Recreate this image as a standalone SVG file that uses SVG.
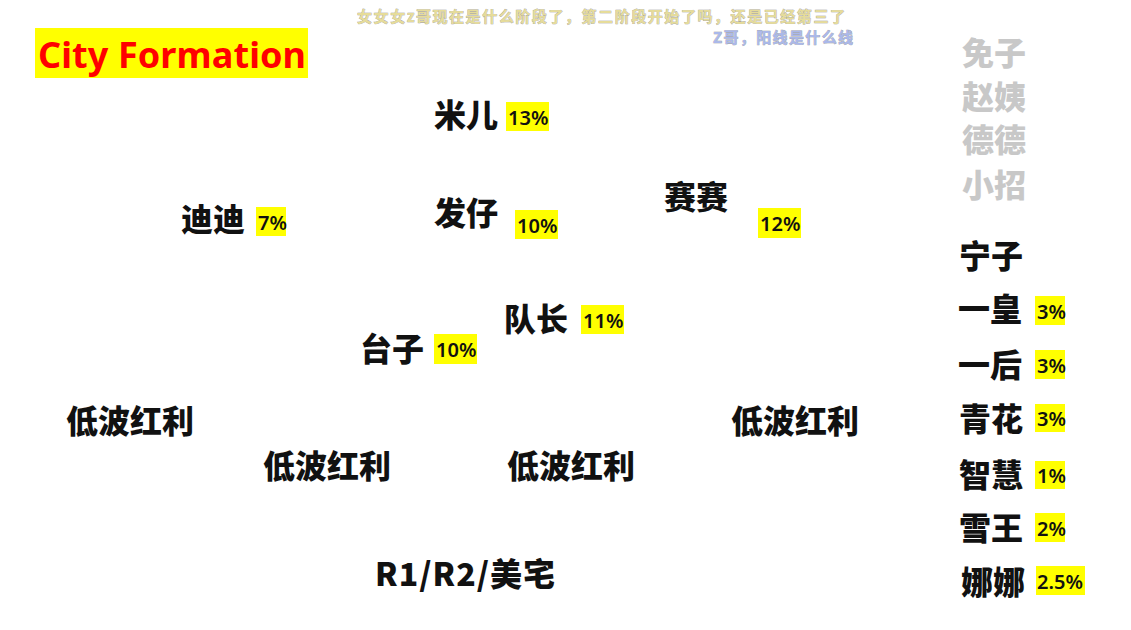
<svg xmlns="http://www.w3.org/2000/svg" width="1131" height="630" viewBox="0 0 1131 630">
<style>
.n{font-family:"Noto Sans CJK SC","Noto Sans",sans-serif;font-weight:900;font-size:32px;fill:#111}
.g{font-family:"Noto Sans CJK SC","Noto Sans",sans-serif;font-weight:900;font-size:32px;fill:#c8c8c8}
.p{font-family:"Noto Sans","Noto Sans CJK SC",sans-serif;font-weight:600;font-size:20px;fill:#111}
.hl{fill:#ffff00}
.dm{font-family:"Noto Sans CJK SC",sans-serif;font-weight:700;font-size:15px;stroke:#9a9a9a;stroke-width:0.6;paint-order:stroke}
</style>
<rect width="1131" height="630" fill="#ffffff"/>
<g id="overlay">
<text class="dm" x="357" y="22" fill="#e6dc9a" textLength="488">女女女z哥现在是什么阶段了，第二阶段开始了吗，还是已经第三了</text>
<text class="dm" x="713" y="43" fill="#aab8ea" textLength="140">Z哥，阳线是什么线</text>
</g>
<g id="title">
<rect x="35" y="28" width="273" height="50" fill="#ffff00"/>
<text x="38" y="68" font-family="Noto Sans,sans-serif" font-weight="700" font-size="36" fill="#ff0000" textLength="268">City Formation</text>
</g>
<g id="connectors"></g>
<g id="mier"><text class="n" x="434" y="127">米儿</text><rect class="hl" x="506" y="102" width="43" height="29"/><text class="p" x="508" y="125">13%</text></g>
<g id="didi"><text class="n" x="181" y="231">迪迪</text><rect class="hl" x="256" y="207" width="30" height="29"/><text class="p" x="258" y="230">7%</text></g>
<g id="fazai"><text class="n" x="434" y="225">发仔</text><rect class="hl" x="515" y="210" width="43" height="29"/><text class="p" x="517" y="233">10%</text></g>
<g id="saisai"><text class="n" x="664" y="209">赛赛</text><rect class="hl" x="758" y="208" width="43" height="30"/><text class="p" x="760" y="231">12%</text></g>
<g id="duizhang"><text class="n" x="504" y="331">队长</text><rect class="hl" x="581" y="305" width="43" height="29"/><text class="p" x="583" y="328">11%</text></g>
<g id="taizi"><text class="n" x="360" y="361">台子</text><rect class="hl" x="434" y="334" width="43" height="30"/><text class="p" x="436" y="357">10%</text></g>
<g id="dibo1"><text class="n" x="66" y="433">低波红利</text></g>
<g id="dibo2"><text class="n" x="263" y="478">低波红利</text></g>
<g id="dibo3"><text class="n" x="507" y="478">低波红利</text></g>
<g id="dibo4"><text class="n" x="731" y="433">低波红利</text></g>
<g id="r1r2"><text class="n" x="375" y="586" textLength="180">R1/R2/美宅</text></g>
<g id="tuzi"><text class="g" x="962" y="65">免子</text></g>
<g id="zhaoyi"><text class="g" x="962" y="109">赵姨</text></g>
<g id="dede"><text class="g" x="962" y="152">德德</text></g>
<g id="xiaozhao"><text class="g" x="962" y="197">小招</text></g>
<g id="ningzi"><text class="n" x="959" y="268">宁子</text></g>
<g id="yihuang"><text class="n" x="958" y="321">一皇</text><rect class="hl" x="1035" y="296" width="30" height="29"/><text class="p" x="1037" y="319">3%</text></g>
<g id="yihou"><text class="n" x="958" y="377">一后</text><rect class="hl" x="1035" y="350" width="30" height="29"/><text class="p" x="1037" y="373">3%</text></g>
<g id="qinghua"><text class="n" x="959" y="431">青花</text><rect class="hl" x="1035" y="404" width="30" height="28"/><text class="p" x="1037" y="426">3%</text></g>
<g id="zhihui"><text class="n" x="959" y="487">智慧</text><rect class="hl" x="1035" y="461" width="30" height="28"/><text class="p" x="1037" y="483">1%</text></g>
<g id="xuewang"><text class="n" x="959" y="540">雪王</text><rect class="hl" x="1035" y="513" width="30" height="29"/><text class="p" x="1037" y="536">2%</text></g>
<g id="nana"><text class="n" x="961" y="594">娜娜</text><rect class="hl" x="1036" y="566" width="49" height="29"/><text class="p" x="1037" y="589">2.5%</text></g>
</svg>
